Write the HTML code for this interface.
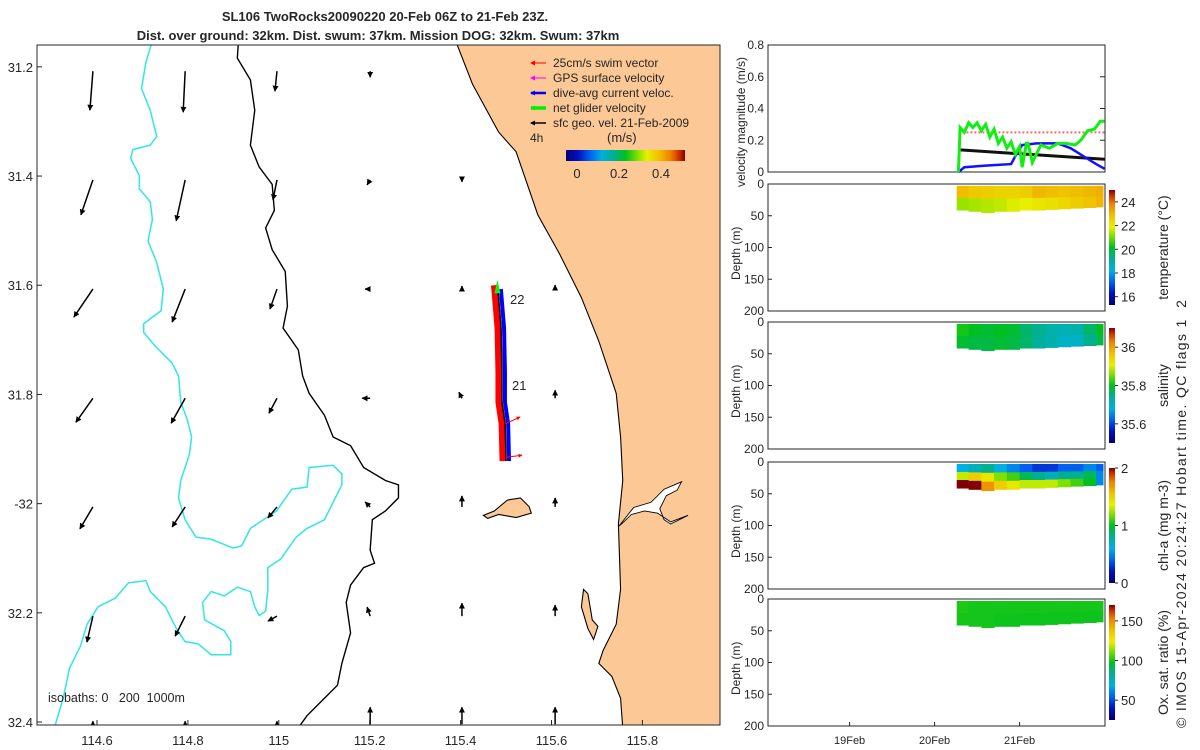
<!DOCTYPE html>
<html><head><meta charset="utf-8"><style>
body{margin:0;background:#fff}
svg{display:block;font-family:"Liberation Sans",sans-serif}
text{white-space:pre}
</style></head><body>
<svg id="c" width="1200" height="750" viewBox="0 0 1200 750"></svg>
<script>
// ---- map data ----
const lonTicks=[114.6,114.8,115,115.2,115.4,115.6,115.8];
const lonLabels=["114.6","114.8","115","115.2","115.4","115.6","115.8"];
const latTicks=[31.2,31.4,31.6,31.8,32,32.2,32.4];
const latLabels=["31.2","31.4","31.6","31.8","-32","32.2","32.4"];
const arrowLons=[114.591,114.794,114.996,115.201,115.403,115.608];
const arrowLats=[31.208,31.407,31.607,31.807,32.006,32.206,32.404];
// current components (cm/s), east & south
const arrowU=[[-3,-2,-2,0,0,0],[-12,-9,-4,-3,0,0],[-19,-13,-7,-5,0,0],[-17,-14,-8,-8,-3,0],[-13,-13,-9,-5,0,0],[-6,-10,-9,-3,0,0],[0,0,0,0,0,0]];
const arrowV=[[39,41,20,6,0,0],[35,41,20,5,2,0],[28,33,20,0,-3,-4],[24,25,15,0,-6,-8],[22,20,11,-5,-11,-9],[26,20,5,-9,-13,-11],[-3,-3,-3,-17,-17,-17]];
const trackLat=[31.600,31.607,31.678,31.759,31.814,31.854,31.922];
const trackLon=[115.481,115.482,115.489,115.491,115.491,115.498,115.500];
// ---- time series ----
const tGreen=[20.28,20.30,20.35,20.40,20.45,20.50,20.55,20.60,20.65,20.70,20.75,20.80,20.85,20.90,20.95,21.00,21.03,21.08,21.10,21.15,21.25,21.35,21.45,21.55,21.65,21.72,21.80,21.88,21.95,22.0];
const vGreen=[0.0,0.28,0.25,0.31,0.28,0.31,0.26,0.30,0.22,0.27,0.18,0.22,0.15,0.19,0.11,0.16,0.03,0.18,0.18,0.06,0.17,0.15,0.18,0.18,0.17,0.2,0.26,0.27,0.32,0.32];
const tBlue=[20.28,20.35,20.6,20.9,20.95,21.03,21.2,21.45,21.6,21.75,21.9,22.0];
const vBlue=[0.0,0.03,0.04,0.05,0.1,0.17,0.18,0.18,0.15,0.1,0.05,0.02];
const tBlack=[20.28,22.0];const vBlack=[0.14,0.08];
const tRed=[20.28,22.0];const vRed=[0.25,0.25];
// sections
const secT=[20.26,20.4,20.55,20.7,20.85,21.0,21.15,21.3,21.45,21.6,21.75,21.9];
const tempTop=[22.9,22.7,22.6,22.5,22.5,22.6,23.0,22.9,22.8,22.9,23.0,23.1];
const tempBot=[21.3,21.4,21.5,21.6,21.8,21.9,22.1,22.2,22.4,22.6,22.8,23.0];
const salTop=[35.81,35.8,35.79,35.8,35.79,35.76,35.74,35.72,35.71,35.72,35.76,35.8];
const salBot=[35.79,35.78,35.78,35.79,35.78,35.76,35.73,35.72,35.7,35.7,35.74,35.78];
const chlTop=[0.6,0.7,0.8,0.6,0.5,0.4,0.3,0.3,0.4,0.4,0.5,0.4];
const chlMid=[1.3,1.5,1.4,1.2,1.1,0.9,0.8,0.7,0.8,0.8,0.9,0.5];
const chlBot=[2.0,2.0,1.7,1.5,1.4,1.3,1.3,1.3,1.2,1.1,1.0,0.5];
const oxTop=[101,100,100,100,100,100,100,100,100,100,100,100];
const oxBot=[100,100,100,99,99,99,99,99,99,99,99,99];
const secBottom=[38,40,42,40,40,38,38,37,36,35,34,33];

const svg=document.getElementById('c');const NS='http://www.w3.org/2000/svg';
function el(t,a,p){const e=document.createElementNS(NS,t);for(const k in a)e.setAttribute(k,a[k]);(p||svg).appendChild(e);return e;}
function tx(x,y,s,a,p){const e=el('text',Object.assign({x:x,y:y,'font-size':13,fill:'#262626'},a||{}),p);e.textContent=s;return e;}
const X=l=>37+(l-114.468)*454.5, Y=l=>45+(l-31.16)*546;
const CM=[[0,0,0,112],[0.1,0,16,192],[0.2,0,96,240],[0.3,0,176,224],[0.4,0,176,144],[0.5,0,192,32],[0.6,128,224,0],[0.68,232,240,0],[0.78,240,192,0],[0.88,240,128,0],[0.95,208,48,0],[1,128,0,0]];
function cmap(f){f=Math.max(0,Math.min(1,f));for(let i=1;i<CM.length;i++){if(f<=CM[i][0]){const a=CM[i-1],b=CM[i],t=(f-a[0])/(b[0]-a[0]);return `rgb(${a[1]+(b[1]-a[1])*t|0},${a[2]+(b[2]-a[2])*t|0},${a[3]+(b[3]-a[3])*t|0})`;}}return 'rgb(128,0,0)';}
const defs=el('defs',{});
const gr=el('linearGradient',{id:'jetv',x1:0,y1:1,x2:0,y2:0},defs);
const grh=el('linearGradient',{id:'jeth',x1:0,y1:0,x2:1,y2:0},defs);
CM.forEach(s=>{el('stop',{offset:s[0],'stop-color':cmap(s[0])},gr);el('stop',{offset:s[0],'stop-color':cmap(s[0])},grh);});
const mk=el('marker',{id:'ah',viewBox:'0 0 10 10',refX:9,refY:5,markerWidth:4,markerHeight:4,orient:'auto'},defs);
el('path',{d:'M0,0L10,5L0,10z',fill:'#000'},mk);
const mkr=el('marker',{id:'ahr',viewBox:'0 0 10 10',refX:9,refY:5,markerWidth:4,markerHeight:4,orient:'auto'},defs);
el('path',{d:'M0,0L10,5L0,10z',fill:'#f00'},mkr);
// title
tx(385,21,'SL106 TwoRocks20090220 20-Feb 06Z to 21-Feb 23Z.',{'font-weight':'bold','text-anchor':'middle'});
tx(378,40,'Dist. over ground: 32km. Dist. swum: 37km. Mission DOG: 32km. Swum: 37km',{'font-weight':'bold','text-anchor':'middle'});
// map
const map=el('g',{});
const cp=el('clipPath',{id:'mc'},defs);el('rect',{x:37,y:45,width:683,height:680},cp);
const mg=el('g',{'clip-path':'url(#mc)'},map);
const geo=el('g',{transform:'translate(37,45) scale(0.4355)'},mg);
const land=el('path',{d:'M965,0 L1000,90 L1060,200 L1100,245 L1150,390 L1200,480 L1250,580 L1290,680 L1330,800 L1340,900 L1345,1000 L1335,1100 L1340,1250 L1330,1330 L1300,1390 L1290,1420 L1320,1450 L1340,1500 L1345,1568 L1600,1600 L1600,0 Z',fill:'#fbc896',stroke:'#000','stroke-width':2.5},geo);

const bay=el('path',{d:'M1336,1105 L1370,1062 L1410,1050 L1440,1020 L1480,1003 L1470,1022 L1445,1035 L1430,1065 L1440,1090 L1455,1100 L1495,1080 L1455,1095 L1425,1075 L1395,1070 L1365,1078 L1342,1100 Z',fill:'#fff',stroke:'#000','stroke-width':2},geo);

const island=el('path',{d:'M1025,1080 L1050,1070 L1080,1045 L1110,1040 L1130,1060 L1135,1075 L1100,1085 L1060,1078 L1035,1087 Z',fill:'#fbc896',stroke:'#000','stroke-width':2.5},geo);

const isl2=el('path',{d:'M1255,1250 L1265,1260 L1275,1320 L1288,1335 L1278,1365 L1265,1340 L1250,1290 Z',fill:'#fbc896',stroke:'#000','stroke-width':2.5},geo);

const i2=el('polyline',{points:'462,0 460,30 490,80 500,150 490,230 510,280 540,320 545,380 525,420 540,470 570,520 575,600 565,650 600,700 610,760 625,800 660,850 680,900 720,920 750,970 800,1000 830,1010 830,1040 800,1070 770,1090 765,1160 775,1190 750,1200 720,1240 710,1280 720,1350 700,1420 690,1470 660,1500 620,1540 600,1568',fill:'none',stroke:'#000','stroke-width':3.2},geo);

const i1=el('polyline',{points:'262,0 250,40 240,100 260,150 275,210 260,230 220,240 215,260 235,300 235,330 260,360 265,400 255,450 275,500 290,560 285,610 245,640 245,660 270,690 310,730 325,760 330,820 345,860 355,900 350,940 330,1000 325,1040 340,1090 365,1130 400,1135 450,1155 470,1150 490,1110 550,1070 585,1020 620,1015 625,970 680,965 700,985 700,1010 680,1050 660,1090 620,1110 595,1130 560,1180 530,1200 530,1250 525,1300 510,1310 500,1290 490,1255 460,1245 430,1265 400,1255 380,1280 385,1320 430,1345 445,1370 445,1400 400,1400 370,1375 340,1370 320,1340 295,1290 260,1255 250,1230 210,1235 180,1270 140,1290 115,1330 100,1380 75,1430 60,1500 40,1568',fill:'none',stroke:'#33e6e6','stroke-width':3.5},geo);

for(let r=0;r<arrowLats.length;r++)for(let c=0;c<arrowLons.length;c++){
 const x0=X(arrowLons[c]),y0=Y(arrowLats[r]),u=arrowU[r][c],v=arrowV[r][c];
 if(u==0&&v==0)continue;
 const a=el('line',{x1:x0,y1:y0,x2:x0+u,y2:y0+v,stroke:'#000','stroke-width':1.5,'marker-end':'url(#ah)'},mg);
 }
const tr=el('g',{},mg);
el('polyline',{points:trackLon.map((l,i)=>(X(l)-3)+','+Y(trackLat[i])).join(' '),fill:'none',stroke:'#f00','stroke-width':7},tr);
el('polyline',{points:trackLon.slice(1).map((l,i)=>(X(l)+3)+','+Y(trackLat[i+1])).join(' '),fill:'none',stroke:'#00f','stroke-width':4},tr);
el('polyline',{points:trackLon.map((l,i)=>X(l)+','+Y(trackLat[i])).join(' '),fill:'none',stroke:'#000','stroke-width':1.5},tr);
el('path',{d:`M${X(115.481)-3},${Y(31.615)} L${X(115.481)},${Y(31.59)} L${X(115.481)+3},${Y(31.615)} Z`,fill:'#1e1'},tr);
el('line',{x1:X(115.498),y1:Y(31.854),x2:X(115.498)+15,y2:Y(31.854)-7,stroke:'#f00','stroke-width':1,'marker-end':'url(#ahr)'},tr);
el('line',{x1:X(115.5),y1:Y(31.915),x2:X(115.5)+16,y2:Y(31.915)-2,stroke:'#f00','stroke-width':1,'marker-end':'url(#ahr)'},tr);
tx(510,304,'22',{},mg);tx(512,390,'21',{},mg);
tx(48,702,'isobaths: 0   200  1000m',{'font-size':12.5},mg);
el('rect',{x:37,y:45,width:683,height:680,fill:'none',stroke:'#262626'},map);
lonTicks.forEach((l,i)=>{el('line',{x1:X(l),x2:X(l),y1:725,y2:720,stroke:'#262626'},map);tx(X(l),745,lonLabels[i],{'text-anchor':'middle'},map);});
latTicks.forEach((l,i)=>{el('line',{x1:37,x2:42,y1:Y(l),y2:Y(l),stroke:'#262626'},map);tx(33,Y(l)+5,latLabels[i],{'text-anchor':'end'},map);});
// legend
const lg=el('g',{});
const items=[['25cm/s swim vector','#f00',1],['GPS surface velocity','#f0f',1],['dive-avg current veloc.','#00f',2.5],['net glider velocity','#0e0',3.5],['sfc geo. vel. 21-Feb-2009','#000',1.5]];
items.forEach((it,i)=>{const y=67+i*15;el('line',{x1:546,x2:531,y1:y-4,y2:y-4,stroke:it[1],'stroke-width':it[2]},lg);el('path',{d:`M530,${y-4} l5,-2.5 l0,5z`,fill:it[1]},lg);tx(553,y,it[0],{'font-size':12},lg);});
tx(530,142,'4h',{'font-size':12},lg);tx(607,142,'(m/s)',{'font-size':13},lg);
el('rect',{x:566,y:150,width:119,height:11,fill:'url(#jeth)'},lg);
[['0',577],['0.2',619],['0.4',661]].forEach(t=>tx(t[1],178,t[0],{'text-anchor':'middle'},lg));
// right panels
const TX=t=>768+(t-18.04)*85;
const panels=[45,184,322,462,599],PH=127;
panels.forEach((y,i)=>{const g=el('g',{});
 el('rect',{x:768,y:y,width:337,height:PH,fill:'none',stroke:'#262626'},g);});
const VY=v=>172-v/0.8*127;
const pv=el('g',{});
[0,0.2,0.4,0.6,0.8].forEach(v=>{tx(764,VY(v)+4,String(v),{'text-anchor':'end','font-size':12},pv);el('line',{x1:1105,x2:1100,y1:VY(v),y2:VY(v),stroke:'#262626'},pv);});
tx(0,0,'velocity magnitude (m/s)',{'font-size':12,transform:'translate(745,187) rotate(-90)'},pv);
function line(ts,vs,col,w,dash,name){const e=el('polyline',{points:ts.map((t,i)=>TX(t)+','+VY(vs[i])).join(' '),fill:'none',stroke:col,'stroke-width':w},pv);if(dash)e.setAttribute('stroke-dasharray',dash);}
line(tRed,vRed,'#f66',2,'2 2','swim-speed-line');
line(tBlack,vBlack,'#111',3,null,'geo-velocity-line');
line(tBlue,vBlue,'#11f',2.5,null,'current-velocity-line');
line(tGreen,vGreen,'#1e1',3,null,'glider-velocity-line');
const DY=(p,d)=>panels[p]+d/200*PH;
const secs=[[1,[tempTop,tempBot],15.3,25,[16,18,20,22,24],'temperature (°C)'],[2,[salTop,salBot],35.5,36.1,[35.6,35.8,36],'salinity'],[3,[chlTop,chlMid,chlBot],0,2,[0,1,2],'chl-a (mg m-3)'],[4,[oxTop,oxBot],25,170,[50,100,150],'Ox. sat. ratio (%)']];
secs.forEach(s=>{const p=s[0],rows=s[1],mn=s[2],mx=s[3];
 const g=el('g',{});
 for(let i=0;i<secT.length;i++){const x0=TX(secT[i]),x1=i<secT.length-1?TX(secT[i+1]):1103;const bot=secBottom[i];
  rows.forEach((r,k)=>{const d0=bot*k/rows.length,d1=bot*(k+1)/rows.length;
   const c=el('rect',{x:x0,y:DY(p,d0+3),width:x1-x0+0.5,height:DY(p,d1+3)-DY(p,d0+3)+0.5,fill:cmap((r[i]-mn)/(mx-mn))},g);
   });}
 [0,50,100,150,200].forEach(d=>{tx(764,DY(p,d)+4,String(d),{'text-anchor':'end','font-size':12},g);el('line',{x1:768,x2:772,y1:DY(p,d),y2:DY(p,d),stroke:'#262626'},g);});
 tx(0,0,'Depth (m)',{'font-size':12,transform:`translate(740,${panels[p]+96}) rotate(-90)`},g);
 const cy0=panels[p]+6,ch=115;el('rect',{x:1109,y:cy0,width:6,height:ch,fill:'url(#jetv)'},g);
 s[4].forEach(t=>{const yy=cy0+ch-(t-mn)/(mx-mn)*ch;el('line',{x1:1115,x2:1118,y1:yy,y2:yy,stroke:'#262626'},g);tx(1121,yy+5,String(t),{'font-size':13},g);});
 tx(0,0,s[5],{'font-size':14,'text-anchor':'middle',transform:`translate(1168,${cy0+ch/2}) rotate(-90)`},g);});
[[19,'19Feb'],[20,'20Feb'],[21,'21Feb']].forEach(d=>{el('line',{x1:TX(d[0]),x2:TX(d[0]),y1:726,y2:722,stroke:'#262626'});tx(TX(d[0]),744,d[1],{'text-anchor':'middle','font-size':11});});
tx(0,0,'© IMOS 15-Apr-2024 20:24:27 Hobart time. QC flags 1  2',{'font-size':14,textLength:428,transform:'translate(1186,728) rotate(-90)'});
</script>
</body></html>
